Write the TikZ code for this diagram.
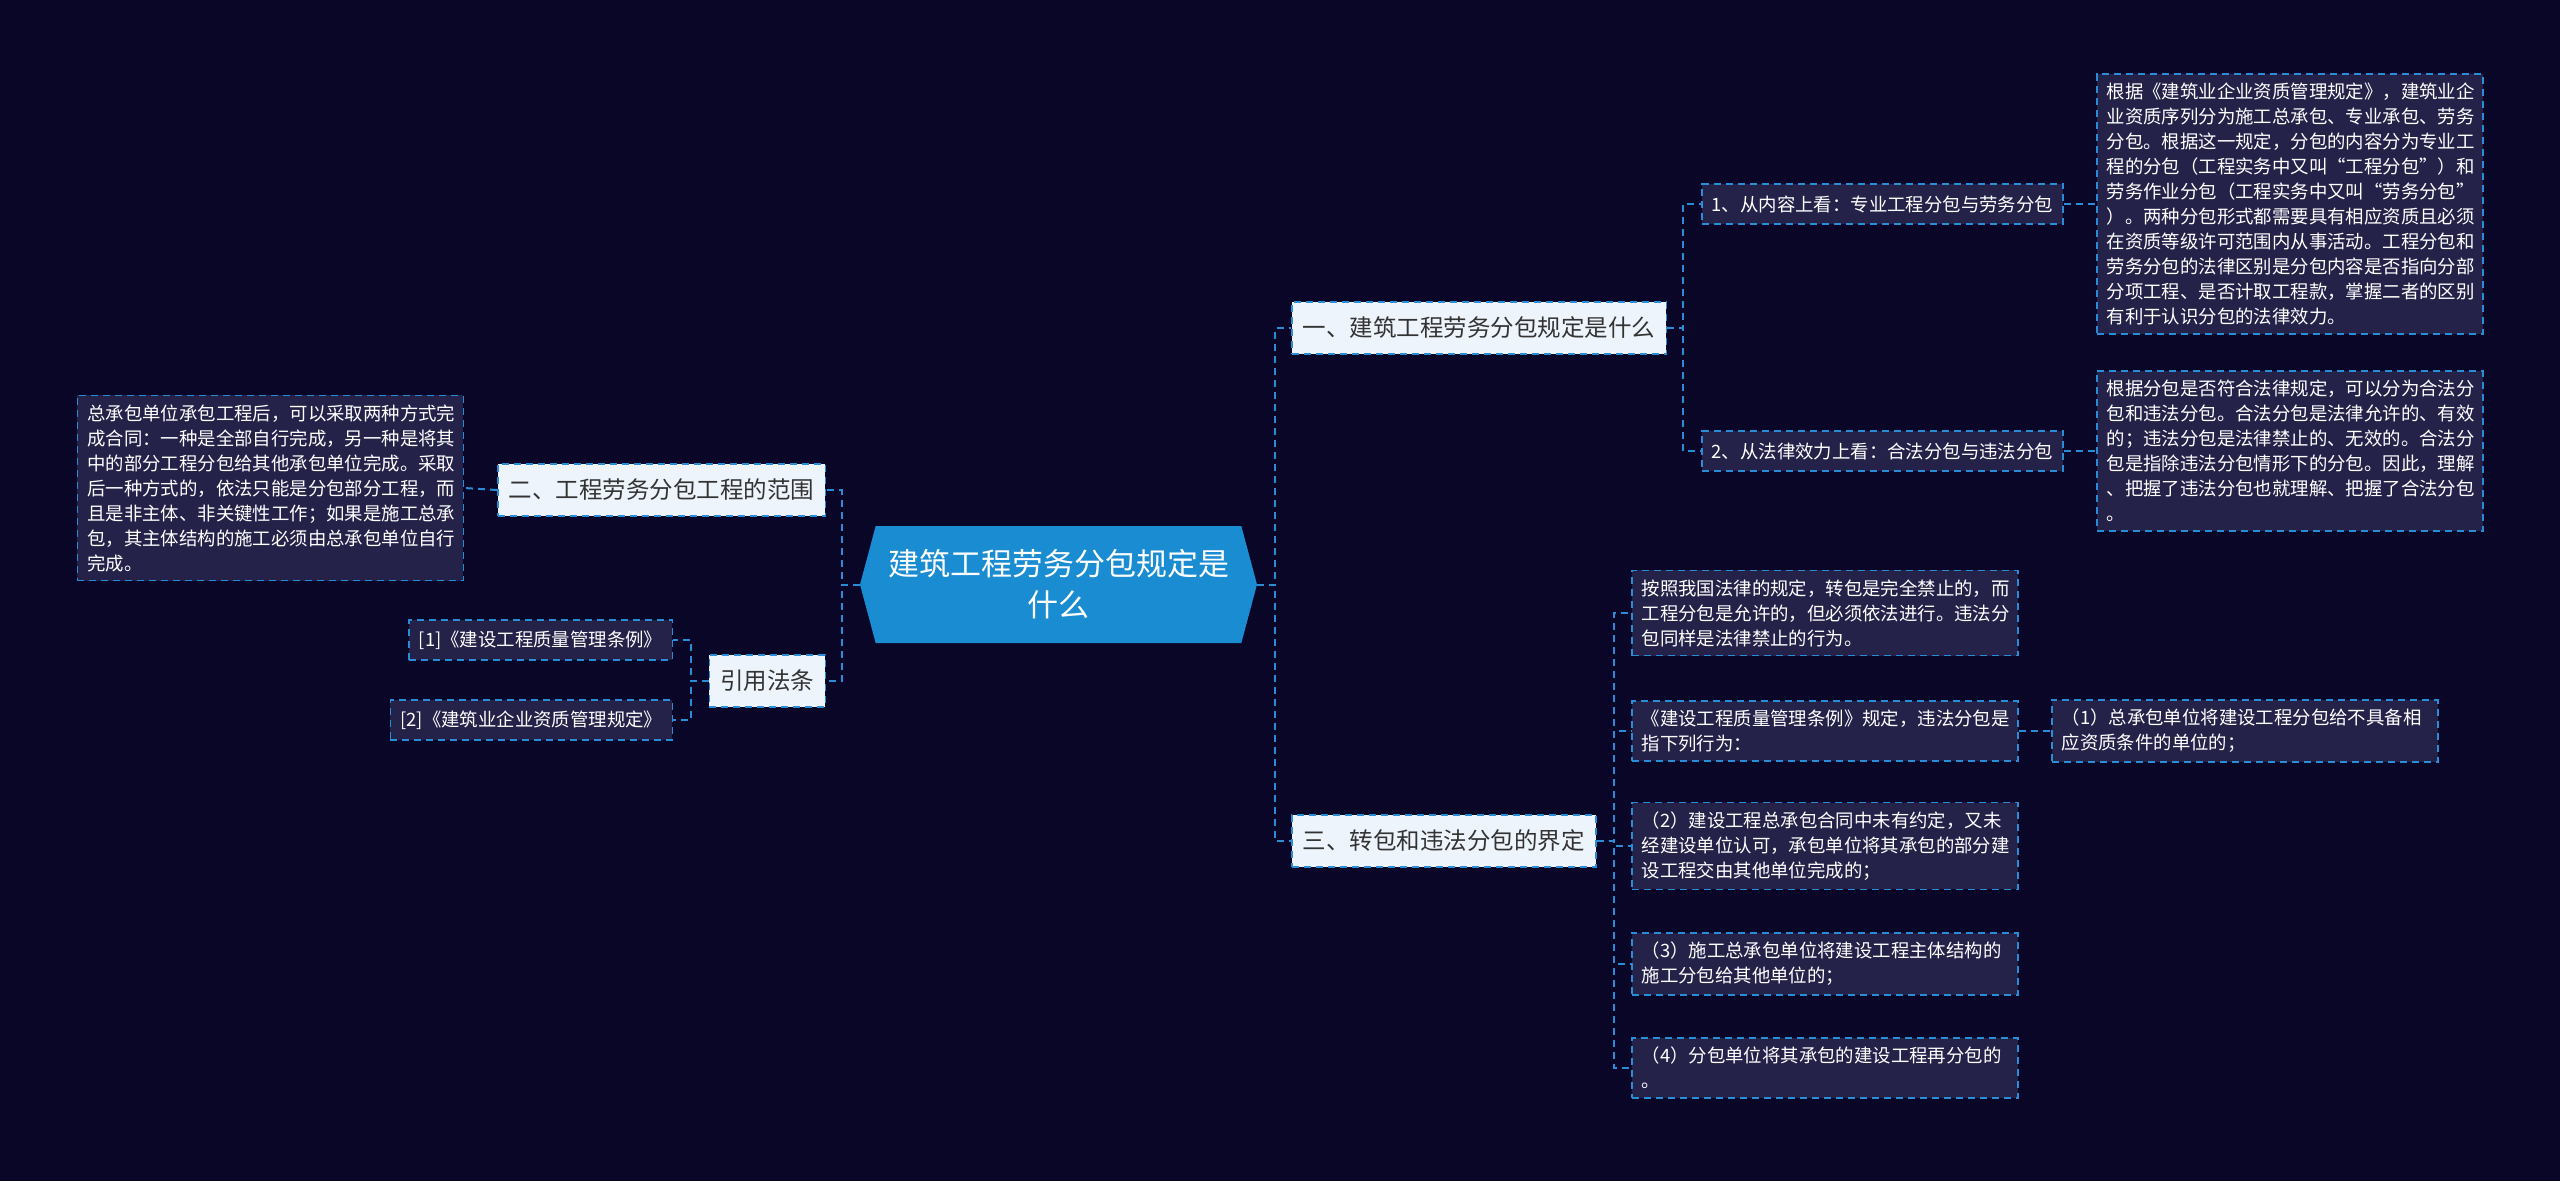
\documentclass[tikz,border=0pt]{standalone}
\usepackage{fontspec}
\setmainfont{Noto Sans CJK SC}
\usetikzlibrary{shapes.symbols}

\definecolor{bgcol}{RGB}{10,6,40}
\definecolor{rootblue}{RGB}{26,140,210}
\definecolor{lineblue}{RGB}{40,140,215}
\definecolor{topicfill}{RGB}{238,244,252}
\definecolor{topictext}{RGB}{51,51,51}
\definecolor{leaffill}{RGB}{37,34,74}

\tikzset{
  root/.style={signal, signal to=west and east, signal pointer angle=150,
    fill=rootblue, text=white, align=center, inner sep=0pt,
    minimum width=397pt, minimum height=117pt,
    font=\fontsize{31}{41}\selectfont},
  topic/.style={draw=lineblue, line width=1.5pt, dash pattern=on 7pt off 5pt,
    fill=topicfill, text=topictext, inner xsep=11pt, minimum height=52pt,
    font=\fontsize{23.5}{28}\selectfont},
  leaf/.style={draw=lineblue, line width=1.5pt, dash pattern=on 7pt off 5pt,
    fill=leaffill, text=white, inner xsep=10pt, minimum height=40pt,
    font=\fontsize{18.4}{25}\selectfont},
  para/.style={leaf, text width=366pt, align=left, inner ysep=9pt},
  link/.style={draw=lineblue, line width=2pt, dash pattern=on 7pt off 5pt}
}

\begin{document}
\begin{tikzpicture}[x=1pt, y=-1pt]
  \useasboundingbox (0,0) rectangle (2560,1181);
  \fill[bgcol] (0,0) rectangle (2560,1181);

  \node[root] (root) at (1058.5,584.5) {建筑工程劳务分包规定是\\什么};

  \node[topic, anchor=west] (s1) at (1291,328) {一、建筑工程劳务分包规定是什么};
  \node[topic, anchor=west] (s3) at (1291,841) {三、转包和违法分包的界定};
  \node[topic, anchor=east] (s2) at (826,490) {二、工程劳务分包工程的范围};
  \node[topic, anchor=east] (law) at (826,681) {引用法条};

  \node[leaf, anchor=west] (s1a) at (1701,204) {1、从内容上看：专业工程分包与劳务分包};
  \node[leaf, anchor=west] (s1b) at (1701,451) {2、从法律效力上看：合法分包与违法分包};

  \node[para, anchor=west] (s1at) at (2096,204) {根据《建筑业企业资质管理规定》，建筑业企\\
    业资质序列分为施工总承包、专业承包、劳务\\
    分包。根据这一规定，分包的内容分为专业工\\
    程的分包（工程实务中又叫“工程分包”）和\\
    劳务作业分包（工程实务中又叫“劳务分包”\\
    ）。两种分包形式都需要具有相应资质且必须\\
    在资质等级许可范围内从事活动。工程分包和\\
    劳务分包的法律区别是分包内容是否指向分部\\
    分项工程、是否计取工程款，掌握二者的区别\\
    有利于认识分包的法律效力。};
  \node[para, anchor=west] (s1bt) at (2096,451) {根据分包是否符合法律规定，可以分为合法分\\
    包和违法分包。合法分包是法律允许的、有效\\
    的；违法分包是法律禁止的、无效的。合法分\\
    包是指除违法分包情形下的分包。因此，理解\\
    、把握了违法分包也就理解、把握了合法分包\\
    。};

  \node[para, anchor=east] (s2t) at (464,488) {总承包单位承包工程后，可以采取两种方式完\\
    成合同：一种是全部自行完成，另一种是将其\\
    中的部分工程分包给其他承包单位完成。采取\\
    后一种方式的，依法只能是分包部分工程，而\\
    且是非主体、非关键性工作；如果是施工总承\\
    包，其主体结构的施工必须由总承包单位自行\\
    完成。};

  \node[leaf, anchor=east] (law1) at (673,640) {[1]《建设工程质量管理条例》};
  \node[leaf, anchor=east] (law2) at (673,720) {[2]《建筑业企业资质管理规定》};

  \node[para, anchor=west] (s3a) at (1631,613) {按照我国法律的规定，转包是完全禁止的，而\\
    工程分包是允许的，但必须依法进行。违法分\\
    包同样是法律禁止的行为。};
  \node[para, anchor=west] (s3b) at (1631,731) {《建设工程质量管理条例》规定，违法分包是\\
    指下列行为：};
  \node[para, anchor=west] (s3b1) at (2051,731) {（1）总承包单位将建设工程分包给不具备相\\
    应资质条件的单位的；};
  \node[para, anchor=west] (s3c) at (1631,846) {（2）建设工程总承包合同中未有约定，又未\\
    经建设单位认可，承包单位将其承包的部分建\\
    设工程交由其他单位完成的；};
  \node[para, anchor=west] (s3d) at (1631,964) {（3）施工总承包单位将建设工程主体结构的\\
    施工分包给其他单位的；};
  \node[para, anchor=west] (s3e) at (1631,1068) {（4）分包单位将其承包的建设工程再分包的\\
    。};

  \draw[link] (root.east) -- ++(18,0) |- (s1.west);
  \draw[link] (root.east) -- ++(18,0) |- (s3.west);
  \draw[link] (root.west) -- ++(-18,0) |- (s2.east);
  \draw[link] (root.west) -- ++(-18,0) |- (law.east);

  \draw[link] (s1.east) -- ++(16,0) |- (s1a.west);
  \draw[link] (s1.east) -- ++(16,0) |- (s1b.west);
  \draw[link] (s1a.east) -- (s1at.west);
  \draw[link] (s1b.east) -- (s1bt.west);

  \draw[link] (s2.west) -- (s2t.east);
  \draw[link] (law.west) -- ++(-18,0) |- (law1.east);
  \draw[link] (law.west) -- ++(-18,0) |- (law2.east);

  \draw[link] (s3.east) -- ++(17,0) |- (s3a.west);
  \draw[link] (s3.east) -- ++(17,0) |- (s3b.west);
  \draw[link] (s3.east) -- ++(17,0) |- (s3c.west);
  \draw[link] (s3.east) -- ++(17,0) |- (s3d.west);
  \draw[link] (s3.east) -- ++(17,0) |- (s3e.west);
  \draw[link] (s3b.east) -- (s3b1.west);
\end{tikzpicture}
\end{document}
